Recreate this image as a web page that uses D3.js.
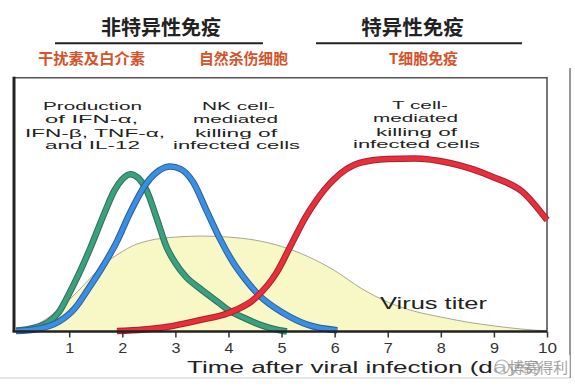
<!DOCTYPE html>
<html><head><meta charset="utf-8">
<script src="https://cdn.jsdelivr.net/npm/d3@7/dist/d3.min.js"></script>
<style>
html,body{margin:0;padding:0;background:#fff;}
svg{display:block;}
</style></head>
<body>
<svg id="chart" width="575" height="387"></svg>
<script>
// ---- data ----
const xTicks = [1,2,3,4,5,6,7,8,9,10];

const titerTime  = [0,0.5,1,1.33,1.6,2,2.2,2.5,3,3.5,4,4.5,5,5.5,6,6.5,7,7.5,8,8.5,9,9.5,10];
const titerValue = [0,4,12.5,19.5,25.5,31.5,33.8,35.8,37.2,37.6,37.2,36,33.5,29.5,24,17,11.6,8,5.7,3.7,2.2,1,0.2];

const ifnTime  = [0,0.2,0.4,0.6,0.8,1.0,1.2,1.4,1.67,1.85,2.0,2.15,2.3,2.46,2.65,2.84,3.0,3.2,3.46,3.75,4.0,4.3,4.6,4.85,5.1];
const ifnValue = [0.3,0.8,1.8,3.6,7.5,15,23.5,33,47,55.5,60,62,60.5,55.5,44.5,33,27,21.5,17,12.4,8.5,5.3,2.6,1,0];

const nkTime  = [0,0.4,0.8,1.1,1.35,1.6,1.9,2.14,2.46,2.7,2.9,3.1,3.33,3.59,3.84,4.08,4.3,4.59,5.03,5.5,6.05];
const nkValue = [0.2,1,3.8,9,16.5,24.5,35.5,46.5,58.5,63.5,65,64,59,47.5,36.5,27.5,21,14,7.3,2.6,0.5];

const tTime  = [1.9,2.4,2.83,3.46,4.0,4.53,4.9,5.2,5.45,5.66,5.97,6.47,7.0,7.5,8.17,8.98,9.54,10];
const tValue = [0.2,0.8,1.8,4.5,7.3,13.6,23,35,45,51.8,59.6,66.4,68,68.2,66.4,60.9,55,43.9];

const headerLeft = "非特异性免疫";
const headerRight = "特异性免疫";
const subLabels = ["干扰素及白介素","自然杀伤细胞","T细胞免疫"];
const ifnLines = ["Production","of IFN-α,","IFN-β, TNF-α,","and IL-12"];
const nkLines = ["NK cell-","mediated","killing of","infected cells"];
const tLines = ["T cell-","mediated","killing of","infected cells"];
const titerLabel = "Virus titer";
const xTitle = "Time after viral infection (days)";
const watermark = "博赛得利";

// ---- drawing ----
const svg = d3.select("#chart");
const x = d3.scaleLinear().domain([-0.04,10]).range([14,547]);
const y = d3.scaleLinear().domain([0,100]).range([331.5,77.7]);

const cn = "'Noto Sans CJK SC','Noto Sans',sans-serif";
const lat = "'Liberation Sans',Arial,sans-serif";

// outer screenshot frame lines
svg.append("line").attr("x1",570).attr("x2",570).attr("y1",68).attr("y2",378)
  .attr("stroke","#777").attr("stroke-width",1.5);
svg.append("line").attr("x1",0).attr("x2",570).attr("y1",378).attr("y2",378)
  .attr("stroke","#ccc").attr("stroke-width",1);

// titer area
const zip = (a,b)=>a.map((t,i)=>({t,v:b[i]}));
const area = d3.area().x(d=>x(d.t)).y0(y(0)).y1(d=>y(d.v)).curve(d3.curveMonotoneX);
const line = d3.line().x(d=>x(d.t)).y(d=>y(d.v)).curve(d3.curveMonotoneX);
const titer = zip(titerTime,titerValue);
svg.append("path").datum(titer).attr("d",area).attr("fill","#f8f8c6");
svg.append("path").datum(titer).attr("d",line).attr("fill","none").attr("stroke","#a8a890").attr("stroke-width",1);

// frame
svg.append("path")
  .attr("d",`M${x(-0.04)},${y(100)}H${x(10)}V${y(0)}`)
  .attr("fill","none").attr("stroke","#555").attr("stroke-width",1.6);

// curves
function curve(data,dark,col){
  svg.append("path").datum(data).attr("d",line).attr("fill","none")
    .attr("stroke",dark).attr("stroke-width",6.5).attr("stroke-linecap","butt");
  svg.append("path").datum(data).attr("d",line).attr("fill","none")
    .attr("stroke",col).attr("stroke-width",4.5).attr("stroke-linecap","butt");
}
curve(zip(ifnTime,ifnValue),"#2f6f5a","#3aa080");
curve(zip(nkTime,nkValue),"#2a5f9a","#3b8fe2");
curve(zip(tTime,tValue),"#a82030","#e8303c");

// axes
const xAxis = d3.axisBottom(x).tickValues(xTicks).tickSize(6).tickPadding(5).tickFormat(d3.format("d"));
const gx = svg.append("g").attr("transform",`translate(0,${y(0)})`).call(xAxis);
gx.select(".domain").remove();
gx.selectAll(".tick line").attr("stroke","#333").attr("stroke-width",1.5);
gx.selectAll(".tick text").attr("font-family",lat).attr("font-size",15).attr("fill","#333")
  .attr("textLength",d=>d===10?19:9).attr("lengthAdjust","spacingAndGlyphs");
svg.append("line").attr("x1",x(-0.04)-1.5).attr("x2",x(10)).attr("y1",y(0)).attr("y2",y(0))
  .attr("stroke","#222").attr("stroke-width",2.5);
svg.append("line").attr("x1",x(-0.04)).attr("x2",x(-0.04)).attr("y1",y(100)-1).attr("y2",y(0))
  .attr("stroke","#222").attr("stroke-width",3);

// headers
svg.append("text").attr("x",161).attr("y",35).attr("text-anchor","middle")
  .attr("font-family",cn).attr("font-size",20).attr("font-weight","bold").attr("fill","#222").text(headerLeft);
svg.append("text").attr("x",412.5).attr("y",35).attr("text-anchor","middle")
  .attr("font-family",cn).attr("font-size",20.5).attr("font-weight","bold").attr("fill","#222").text(headerRight);
svg.append("line").attr("x1",55).attr("x2",263).attr("y1",43.3).attr("y2",43.3).attr("stroke","#222").attr("stroke-width",2);
svg.append("line").attr("x1",316).attr("x2",522).attr("y1",43.3).attr("y2",43.3).attr("stroke","#222").attr("stroke-width",2);

const subPos = [[91.5,107],[243.5,89],[423.5,69]];
subLabels.forEach((s,i)=>{
  svg.append("text").attr("x",subPos[i][0]).attr("y",63.5).attr("text-anchor","middle")
    .attr("font-family",cn).attr("font-size",15).attr("font-weight","bold").attr("fill","#d4532a")
    .attr("textLength",subPos[i][1]).attr("lengthAdjust","spacingAndGlyphs").text(s);
});

// annotations
function block(lines,cx,ys,widths){
  lines.forEach((s,i)=>{
    svg.append("text").attr("x",cx[i]).attr("y",ys[i]+4).attr("text-anchor","middle")
      .attr("font-family",lat).attr("font-size",11.5).attr("fill","#222")
      .attr("textLength",widths[i]).attr("lengthAdjust","spacingAndGlyphs").text(s);
  });
}
block(ifnLines,[92.5,91.5,95,92.5],[106,119.3,132.7,145],[99,93,140,95]);
block(nkLines,[238.5,235.5,236,236.5],[106,119,132.7,145],[73,85,82,127]);
block(tLines,[420,415.5,416.5,416.5],[105,118,132,143.5],[56,85,81,127]);

svg.append("text").attr("x",380).attr("y",309).attr("font-family",lat).attr("font-size",17).attr("fill","#222")
  .attr("textLength",107).attr("lengthAdjust","spacingAndGlyphs").text(titerLabel);

svg.append("text").attr("x",187).attr("y",373).attr("font-family",lat).attr("font-size",16.5).attr("fill","#222")
  .attr("textLength",355).attr("lengthAdjust","spacingAndGlyphs").text(xTitle);

// watermark
const wm = svg.append("g").attr("opacity",0.9);
wm.append("rect").attr("x",492).attr("y",355).attr("width",78).attr("height",22).attr("fill","#fff").attr("opacity",0.75);
wm.append("circle").attr("cx",502).attr("cy",367).attr("r",7).attr("fill","none").attr("stroke","#aaa").attr("stroke-width",1.2);
wm.append("text").attr("x",509).attr("y",373).attr("font-family",cn).attr("font-size",15).attr("fill","#999")
  .attr("textLength",59).attr("lengthAdjust","spacingAndGlyphs").text(watermark);
</script>
</body></html>
